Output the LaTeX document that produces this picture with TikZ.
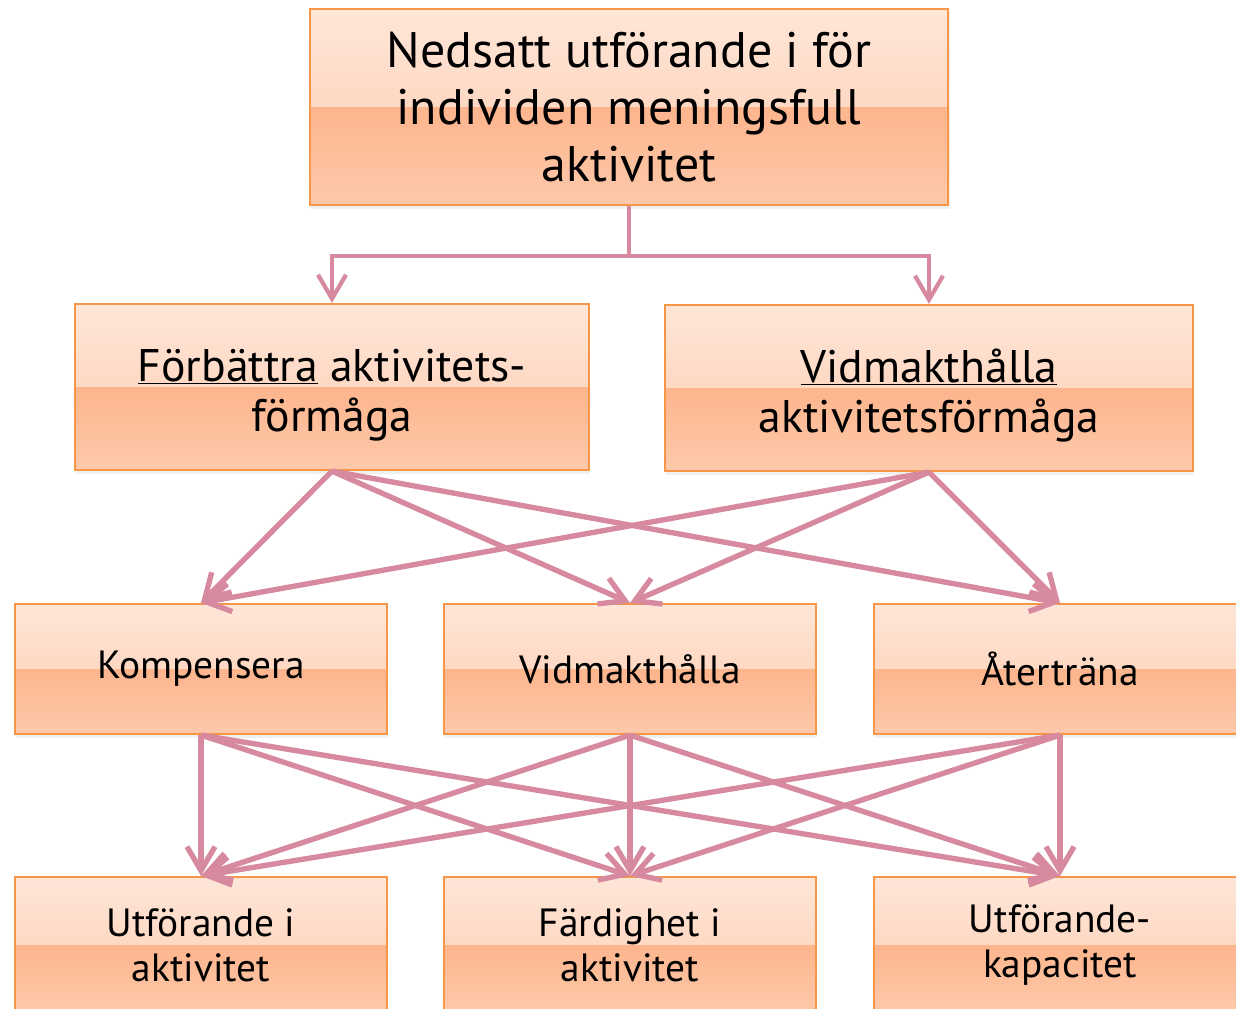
\documentclass[tikz,border=0pt]{standalone}
\usepackage{fontspec}
\setmainfont{PT Sans}
\usetikzlibrary{arrows.meta,shadows}
\definecolor{kant}{HTML}{F79646}
\definecolor{rosa}{HTML}{D6899F}
\definecolor{ljus}{HTML}{FEE6D8}
\definecolor{mellan}{HTML}{FDCBAF}
\definecolor{mork}{HTML}{FDB58D}
\definecolor{botten}{HTML}{FDC9AB}
\tikzset{
  ruta/.style={draw=kant,line width=1.5pt,align=center,inner sep=0pt,
    drop shadow={shadow xshift=1pt,shadow yshift=-2.5pt,opacity=.12},
    path picture={
      \fill[top color=ljus,bottom color=mellan] (path picture bounding box.north west) rectangle (path picture bounding box.east);
      \fill[top color=mork,bottom color=botten] (path picture bounding box.west) rectangle (path picture bounding box.south east);}},
  pil/.style={rosa,line width=3.8pt,-{Straight Barb[length=6mm,width=7mm]}},
  liten/.style={ruta,minimum width=9.3cm,minimum height=3.25cm},
}

\begin{document}
\begin{tikzpicture}[x=0.025cm,y=-0.025cm]
  \useasboundingbox (0,0) rectangle (1236,1008);
  \node[ruta,minimum width=15.95cm,minimum height=4.9cm,font=\fontsize{35.5}{40.5}\selectfont] (topp) at (629,107) {Nedsatt utförande i för\\individen meningsfull\\aktivitet};
  \node[ruta,minimum width=12.85cm,minimum height=4.15cm,font=\fontsize{32.5}{35.6}\selectfont] (forb) at (332,387) {\rule{0pt}{1.2cm}\underline{Förbättra} aktivitets-\\förmåga};
  \node[ruta,minimum width=13.2cm,minimum height=4.15cm,font=\fontsize{32.5}{35.6}\selectfont] (vidm) at (929,388) {\rule{0pt}{1.2cm}\underline{Vidmakthålla}\\aktivitetsförmåga};
  \foreach \namn/\xx/\txt in {komp/201/Kompensera,vmh/630/Vidmakthålla,ater/1060/Återträna}
    \node[liten,font=\fontsize{28}{33}\selectfont] (\namn) at (\xx,669) {\txt};
  \foreach \namn/\xx/\txt in {utf/201/{Utförande i\\aktivitet},fard/630/{Färdighet i\\aktivitet},kap/1060/{Utförande-\\kapacitet}}
    \node[liten,minimum height=3.4cm,font=\fontsize{28}{32}\selectfont] (\namn) at (\xx,945) {\txt};
  \draw[pil,line width=3pt] (topp.south) -- ++(0,50) -| (forb.north);
  \draw[pil,line width=3pt] (topp.south) -- ++(0,50) -| (vidm.north);
  \foreach \s in {forb,vidm}
    \foreach \t in {komp,vmh,ater} \draw[pil] (\s.south) -- (\t.north);
  \foreach \s in {komp,vmh,ater}
    \foreach \t in {utf,fard,kap} \draw[pil] (\s.south) -- (\t.north);
\end{tikzpicture}
\end{document}
